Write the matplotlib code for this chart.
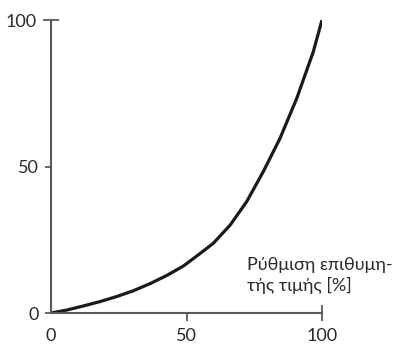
import matplotlib
matplotlib.use("Agg")
import matplotlib.pyplot as plt

plt.rcParams['font.family'] = ['Lato', 'DejaVu Sans']

# Response curve: output vs. setpoint (percent)
setpoint = [0, 5.8, 11.9, 18.1, 24.2, 30.4, 36.5, 42.7, 48.8, 55, 59.9,
            66.1, 72.2, 78.3, 84.5, 90.7, 96.8, 100]
output = [0, 1.0, 2.4, 3.9, 5.6, 7.6, 10.0, 12.8, 16.0, 20.3, 23.8,
          30.0, 38.0, 48.2, 59.6, 73.3, 89.2, 100]

x_ticks = [0, 50]
y_ticks = [0, 50]
end_tick = [100]
axis_label = "Ρύθμιση επιθυμη-\nτής τιμής [%]"

axis_color = "#5a5a5a"
text_color = "#2a2a2a"
font_size = 13

fig = plt.figure(figsize=(4.01, 3.44), dpi=100)
ax = fig.add_axes([51 / 401, 31 / 344, 271 / 401, 293 / 344])

ax.plot(setpoint, output, color="#1a1a1a", lw=2.3,
        solid_joinstyle="round", solid_capstyle="butt")

ax.set_xlim(0, 100)
ax.set_ylim(0, 100)

for side in ("top", "right"):
    ax.spines[side].set_visible(False)
for side in ("left", "bottom"):
    ax.spines[side].set_color(axis_color)
    ax.spines[side].set_linewidth(1.5)

ax.set_xticks(x_ticks)
ax.set_yticks(y_ticks)
ax.set_xticks(end_tick, minor=True)
ax.set_yticks(end_tick, minor=True)
ax.set_xticklabels([str(v) for v in x_ticks])
ax.set_yticklabels([str(v) for v in y_ticks])
ax.set_xticklabels([str(v) for v in end_tick], minor=True)
ax.set_yticklabels([str(v) for v in end_tick], minor=True)

ax.tick_params(axis="x", which="major", direction="out", length=6, width=1.3,
               color=axis_color, pad=4.5, labelsize=font_size, labelcolor=text_color)
ax.tick_params(axis="y", which="major", direction="out", length=4.5, width=1.3,
               color=axis_color, pad=4.5, labelsize=font_size, labelcolor=text_color)
ax.tick_params(axis="x", which="minor", direction="inout", length=12, width=1.3,
               color=axis_color, pad=4.5, labelsize=font_size, labelcolor=text_color)
ax.tick_params(axis="y", which="minor", direction="inout", length=12, width=1.3,
               color=axis_color, pad=4.5, labelsize=font_size, labelcolor=text_color)
ax.xaxis.get_major_ticks()[0].tick1line.set_visible(False)

ax.text(72.5, 19.2, axis_label, ha="left", va="top", fontsize=font_size,
        color=text_color, linespacing=1.3)

fig.savefig("out.png", dpi=100)
